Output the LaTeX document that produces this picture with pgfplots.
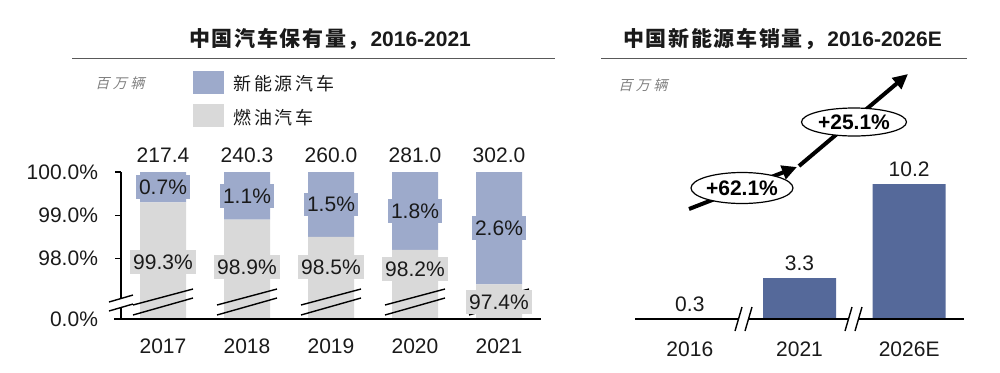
\documentclass[border=0pt]{standalone}
\usepackage{pgfplots}
\pgfplotsset{compat=1.18}
\usepackage{pgfplotstable}
\usepackage{fontspec}
\setmainfont{Liberation Sans}
\newfontfamily\cjkt{Noto Sans CJK SC}[LetterSpace=8]
\newfontfamily\cjkl{Noto Sans CJK SC}[LetterSpace=15]
\newfontfamily\cjki{Noto Sans CJK SC}[FakeSlant=0.25,LetterSpace=25]
\usetikzlibrary{arrows.meta,shapes.geometric}
\definecolor{nev}{HTML}{9DAACB}
\definecolor{ice}{HTML}{D9D9D9}
\definecolor{dkb}{HTML}{55699A}
\definecolor{txt}{HTML}{1A1A1A}

\pgfplotstableread{
x ice nev total
0 99.3 0.7 217.4
1 98.9 1.1 240.3
2 98.5 1.5 260.0
3 98.2 1.8 281.0
4 97.4 2.6 302.0
}\carstock

\pgfplotstableread{
x year sales
0 2016 0.3
1 2021 3.3
2 2026E 10.2
}\nevsales

\pgfplotsset{/pgf/number format/assume math mode=true}
\tikzset{lbl/.style={inner xsep=1.5pt, inner ysep=2pt, text height=7.6pt, text depth=0.2pt, text=txt},
  brk/.style={line width=0.7pt, black}}

\begin{document}
\begin{tikzpicture}[font=\fontsize{10.5}{12}\selectfont]
\useasboundingbox (0,0) rectangle (500pt,186pt);

% ---------------- left chart ----------------
\begin{axis}[at={(60.5pt,26.5pt)}, anchor=south west, scale only axis,
  width=210pt, height=73.5pt,
  xmin=-0.5, xmax=4.5, ymin=0, ymax=3.4,
  ybar stacked, bar width=23pt,
  axis line style={draw=none},
  xtick={0,1,2,3,4}, xticklabels={2017,2018,2019,2020,2021},
  major x tick style={draw=none},
  ytick={0,1.4,2.4,3.4}, yticklabels={0.0\%,98.0\%,99.0\%,100.0\%},
  ytick pos=left, tick align=outside, major tick length=3pt,
  y tick style={black, line width=0.7pt},
  tick label style={font=\fontsize{10.5}{12}\selectfont, text=txt},
  xticklabel style={yshift=-3.5pt},
  yticklabel style={xshift=-5pt},
  clip=false]
\addplot[fill=ice, draw=none] table[x=x, y expr=\thisrow{ice}-96.6] {\carstock};
\addplot[fill=nev, draw=none] table[x=x, y=nev] {\carstock};
\coordinate (b0) at (axis cs:0,0);
\coordinate (b1) at (axis cs:1,0);
\coordinate (b2) at (axis cs:2,0);
\coordinate (b3) at (axis cs:3,0);
\coordinate (b4) at (axis cs:4,0);
\coordinate (t0) at (axis cs:0,3.4);
\coordinate (t1) at (axis cs:1,3.4);
\coordinate (t2) at (axis cs:2,3.4);
\coordinate (t3) at (axis cs:3,3.4);
\coordinate (t4) at (axis cs:4,3.4);
\coordinate (n0) at (axis cs:0,3.05);
\coordinate (n1) at (axis cs:1,2.85);
\coordinate (n2) at (axis cs:2,2.65);
\coordinate (n3) at (axis cs:3,2.50);
\coordinate (n4) at (axis cs:4,2.10);
\coordinate (g0) at (axis cs:0,1.32);
\coordinate (g1) at (axis cs:1,1.20);
\coordinate (g2) at (axis cs:2,1.20);
\coordinate (g3) at (axis cs:3,1.16);
\coordinate (g4) at (axis cs:4,0.39);
\coordinate (k1) at (axis cs:-0.5,1.4);
\coordinate (k2) at (axis cs:-0.5,2.4);
\coordinate (k3) at (axis cs:-0.5,3.4);
\end{axis}

% y ticks
\foreach \k in {k1,k2,k3}{
  \draw[line width=0.7pt] ([xshift=-3pt]\k) -- (\k);
}
% breaks in the bars
\foreach \b in {b0,b1,b2,b3,b4}{
  \draw[brk] ([xshift=-15pt,yshift=7pt]\b) -- ([xshift=15pt,yshift=15pt]\b);
  \draw[brk] ([xshift=-15pt,yshift=2pt]\b) -- ([xshift=15pt,yshift=10.5pt]\b);
}
% totals
\node[anchor=south, text=txt, inner sep=0, yshift=4.6pt] at (t0) {217.4};
\node[anchor=south, text=txt, inner sep=0, yshift=4.6pt] at (t1) {240.3};
\node[anchor=south, text=txt, inner sep=0, yshift=4.6pt] at (t2) {260.0};
\node[anchor=south, text=txt, inner sep=0, yshift=4.6pt] at (t3) {281.0};
\node[anchor=south, text=txt, inner sep=0, yshift=4.6pt] at (t4) {302.0};
% share labels
\node[lbl, fill=nev] at (n0) {0.7\%};
\node[lbl, fill=nev] at (n1) {1.1\%};
\node[lbl, fill=nev] at (n2) {1.5\%};
\node[lbl, fill=nev] at (n3) {1.8\%};
\node[lbl, fill=nev] at (n4) {2.6\%};
\node[lbl, fill=ice] at (g0) {99.3\%};
\node[lbl, fill=ice] at (g1) {98.9\%};
\node[lbl, fill=ice] at (g2) {98.5\%};
\node[lbl, fill=ice] at (g3) {98.2\%};
\node[lbl, fill=ice] at (g4) {97.4\%};

% ---------------- right chart ----------------
% bars rise from a baseline of 0.3 (so the 2016 bar is flat, as in the source)
\begin{axis}[at={(317.5pt,26.5pt)}, anchor=south west, scale only axis,
  width=164.5pt, height=67.4pt,
  xmin=-0.5, xmax=2.5, ymin=0, ymax=9.9,
  ybar, bar width=36.5pt,
  axis line style={draw=none},
  ytick=\empty,
  xtick={0,1,2}, xticklabels={2016,2021,2026E},
  major x tick style={draw=none},
  tick label style={font=\fontsize{10.5}{12}\selectfont, text=txt},
  xticklabel style={yshift=-3.5pt},
  clip=false]
\addplot[fill=dkb, draw=none, nodes near coords, point meta=explicit symbolic,
  every node near coord/.append style={text=txt, font=\fontsize{10.5}{12}\selectfont}]
  table[x=x, y expr=\thisrow{sales}-0.3, meta=sales] {\nevsales};
\end{axis}

% ---------------- decorations in pixel units ----------------
\begin{scope}[x=0.5pt,y=0.5pt]
% left
\node[anchor=base, text=txt, inner sep=0] at (330,326) {{\cjkt\bfseries 中国汽车保有量，}\textbf{2016-2021}};
\draw[line width=0.9pt, black!65] (72,313.5) -- (555,313.5);
\node[anchor=west, text=black!50, font=\fontsize{7}{8}\selectfont\cjki, inner sep=0] at (95,289) {百万辆};
\fill[nev] (193,301) rectangle (224,278);
\fill[ice] (193,268) rectangle (224,245);
\node[anchor=west, inner sep=0, text=txt, font=\fontsize{9}{10}\selectfont\cjkl] at (233,288) {新能源汽车};
\node[anchor=west, inner sep=0, text=txt, font=\fontsize{9}{10}\selectfont\cjkl] at (233,254) {燃油汽车};
\draw[line width=0.8pt] (114,53) -- (541,53);
\draw[line width=0.8pt] (121,200) -- (121,74);
\draw[line width=0.8pt] (121,65) -- (121,53);
\draw[brk] (109,70) -- (133,77);
\draw[brk] (109,61) -- (133,68);
% right
\node[anchor=base, text=txt, inner sep=0] at (782.5,326) {{\cjkt\bfseries 中国新能源车销量，}\textbf{2016-2026E}};
\draw[line width=0.9pt, black!65] (601,313.5) -- (967,313.5);
\node[anchor=west, text=black!50, font=\fontsize{7}{8}\selectfont\cjki, inner sep=0] at (618,287) {百万辆};
\draw[line width=0.8pt] (635,53) -- (964,53);
\fill[white] (739,56) rectangle (748,50);
\draw[brk] (735,41) -- (742,65);
\draw[brk] (745,41) -- (752,65);
\fill[white] (849,56) rectangle (858,50);
\draw[brk] (845,41) -- (852,65);
\draw[brk] (855,41) -- (862,65);
\draw[line width=2pt, -{Triangle[length=7.5pt,width=7pt]}] (689,163) -- (797,205);
\draw[line width=2pt, -{Triangle[length=7.5pt,width=7pt]}] (799,206) -- (908,298);
\node[ellipse, draw, fill=white, line width=0.6pt, minimum width=51pt, minimum height=15.5pt, inner sep=0, text=black, font=\bfseries\fontsize{10.5}{12}\selectfont] at (742,184) {+62.1\%};
\node[ellipse, draw, fill=white, line width=0.6pt, minimum width=52.5pt, minimum height=14pt, inner sep=0, text=black, font=\bfseries\fontsize{10.5}{12}\selectfont] at (854,250) {+25.1\%};
\end{scope}
\end{tikzpicture}
\end{document}
